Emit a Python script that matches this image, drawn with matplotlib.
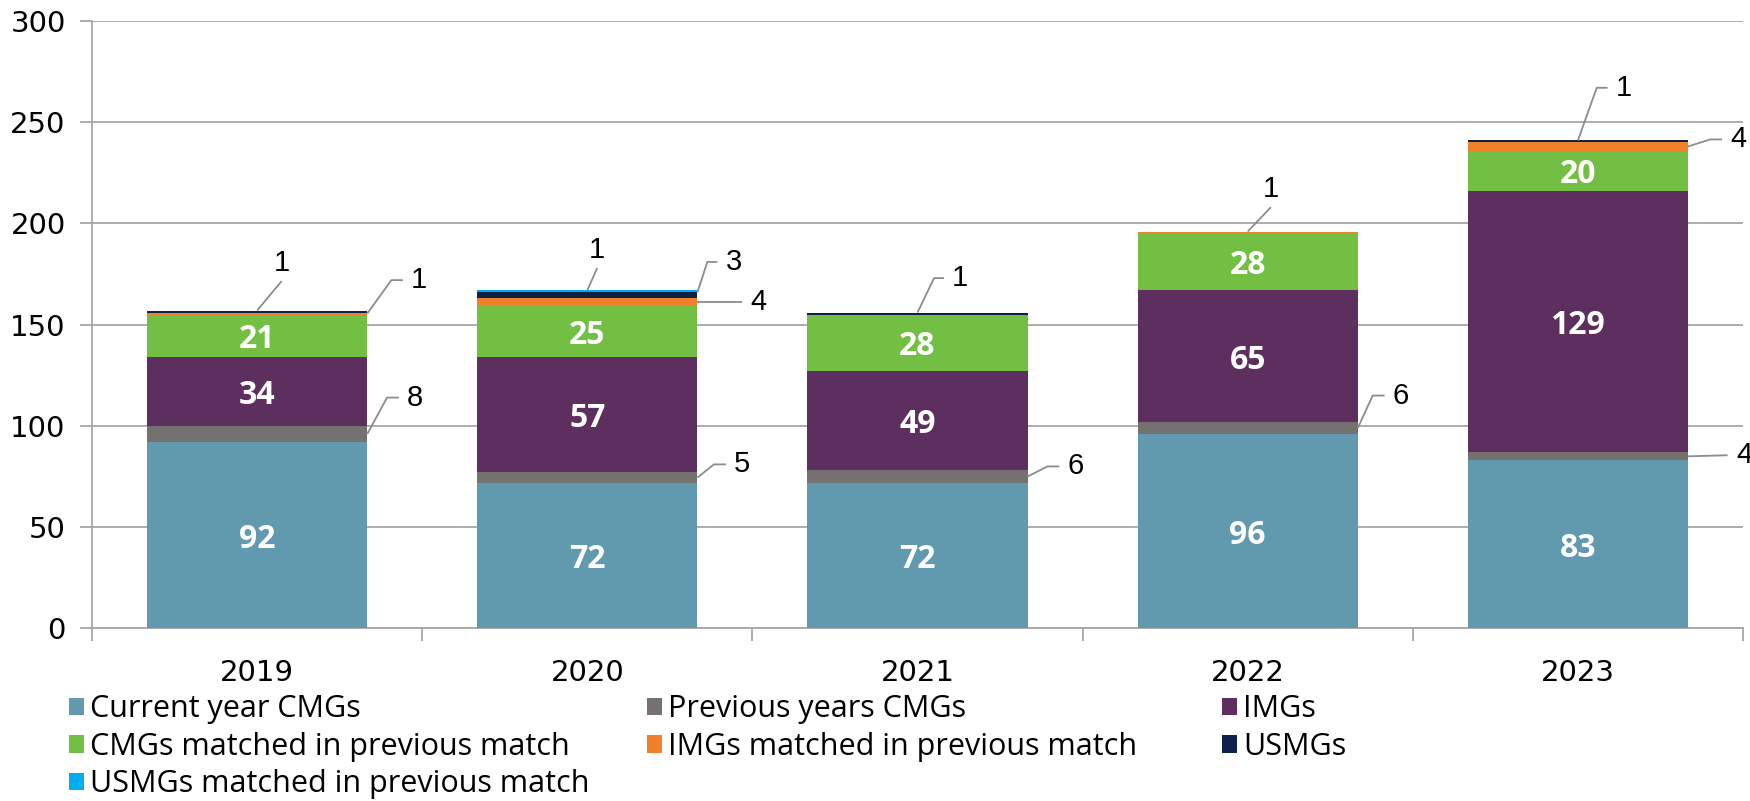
import matplotlib
matplotlib.use("Agg")
import matplotlib.pyplot as plt
import numpy as np

# data
years = ["2019", "2020", "2021", "2022", "2023"]
current_cmgs = [92, 72, 72, 96, 83]
previous_cmgs = [8, 5, 6, 6, 4]
imgs = [34, 57, 49, 65, 129]
cmgs_prev_match = [21, 25, 28, 28, 20]
imgs_prev_match = [1, 4, 0, 1, 4]
usmgs = [1, 3, 1, 0, 1]
usmgs_prev_match = [0, 1, 0, 0, 0]

series_names = ["Current year CMGs", "Previous years CMGs", "IMGs",
                "CMGs matched in previous match", "IMGs matched in previous match",
                "USMGs", "USMGs matched in previous match"]
series = [current_cmgs, previous_cmgs, imgs, cmgs_prev_match,
          imgs_prev_match, usmgs, usmgs_prev_match]
colors = ["#6199AE", "#767171", "#5C2F5E", "#72BF44", "#F0812A", "#0C2048", "#00AEEF"]

# outside labels: (year idx, series idx, anchor, dx, dy, horiz, text side)
callouts = [
    (0, 5, "top", 0.074, 14.5, 0.0, "above"),
    (0, 4, "right", 0.073, 16.5, 0.035, "right"),
    (0, 1, "right", 0.06, 18, 0.036, "right"),
    (1, 6, "top", 0.03, 11, 0.0, "above"),
    (1, 5, "corner", 0.03, 15, 0.03, "right"),
    (1, 4, "right", 0.0, 0.0, 0.134, "right"),
    (1, 1, "right", 0.05, 6.5, 0.036, "right"),
    (2, 5, "top", 0.05, 17, 0.03, "right"),
    (2, 1, "right", 0.06, 5, 0.036, "right"),
    (3, 4, "top", 0.07, 12, 0.0, "above"),
    (3, 1, "right", 0.045, 16, 0.036, "right"),
    (4, 5, "top", 0.057, 26, 0.033, "right"),
    (4, 4, "right", 0.067, 3.5, 0.036, "right"),
    (4, 1, "right", 0.12, 0.5, 0.0, "right"),
]

fig = plt.figure(figsize=(17.5, 8.01), dpi=100)
ax = fig.add_axes([0.0526, 0.2155, 0.9434, 0.7583])

x = np.arange(len(years))
w = 0.667
bottoms = np.zeros(len(years))
cum = []
bars = []
for vals, name, col in zip(series, series_names, colors):
    vals = np.array(vals, dtype=float)
    b = ax.bar(x, vals, w, bottom=bottoms, color=col, label=name, zorder=3)
    bars.append(b)
    cum.append(bottoms.copy())
    bottoms = bottoms + vals

# inner labels
for si in (0, 2, 3):
    for i, v in enumerate(series[si]):
        ax.text(x[i], cum[si][i] + v / 2, str(v), ha="center", va="center_baseline",
                color="white", fontsize=23, fontweight="bold",
                family="Open Sans", zorder=4)

# callouts
for i, si, anchor, dx, dy, h, side in callouts:
    v = series[si][i]
    if anchor == "top":
        ax0, ay0 = x[i], bottoms[i]
    elif anchor == "corner":
        ax0, ay0 = x[i] + w / 2, cum[si][i] + v
    else:
        ax0, ay0 = x[i] + w / 2, cum[si][i] + v / 2
    ex, ey = ax0 + dx, ay0 + dy
    ax.plot([ax0, ex, ex + h], [ay0, ey, ey], color="#8C8C8C", lw=1.3,
            zorder=4, clip_on=False, solid_capstyle="butt")
    if side == "above":
        ax.text(ex, ey + 2, str(v), ha="center", va="bottom", fontsize=21,
                family="Liberation Sans", zorder=5)
    else:
        ax.text(ex + h + 0.025, ey, str(v), ha="left", va="center", fontsize=21,
                family="Liberation Sans", zorder=5, clip_on=False)

ax.set_ylim(0, 300)
ax.set_xlim(-0.5, 4.5)
ax.set_yticks(np.arange(0, 301, 50))
ax.yaxis.grid(True, color="#A6A6A6", lw=1.3, zorder=0)
ax.set_xticks(x)
ax.set_xticklabels(years)
ax.set_xticks(np.arange(-0.5, 4.6, 1.0), minor=True)
ax.tick_params(axis="x", which="major", length=0, pad=22, labelsize=21)
ax.tick_params(axis="x", which="minor", length=9, color="#A6A6A6", width=1.3)
ax.tick_params(axis="y", length=9, color="#A6A6A6", width=1.3, labelsize=21, pad=10)
for s in ("top", "right"):
    ax.spines[s].set_visible(False)
for s in ("left", "bottom"):
    ax.spines[s].set_color("#A6A6A6")
    ax.spines[s].set_linewidth(1.3)

# legend: three equal-width columns, filled row by row
columns = [[0, 3, 6], [1, 4], [2, 5]]
col_x = [0.0394, 0.3697, 0.6983]
for cx, idx in zip(col_x, columns):
    fig.legend([bars[k] for k in idx], [series_names[k] for k in idx],
               loc="upper left", bbox_to_anchor=(cx, 0.133), ncol=1, frameon=False,
               prop={"family": "Open Sans", "size": 22}, handlelength=0.5,
               handleheight=0.5, handletextpad=0.2, labelspacing=0.24,
               borderpad=0, borderaxespad=0)

fig.savefig("out.png", dpi=100)
